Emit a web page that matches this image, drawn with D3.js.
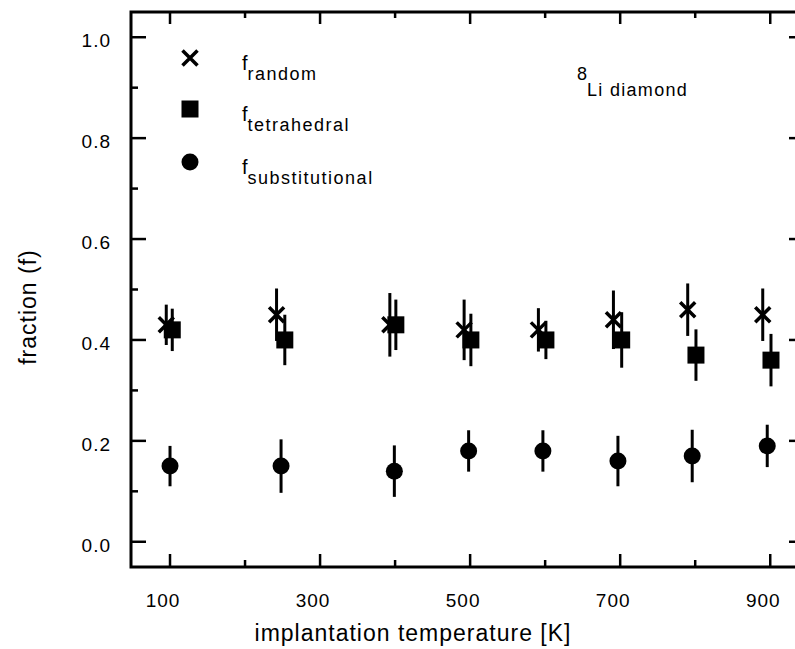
<!DOCTYPE html>
<html>
<head>
<meta charset="utf-8">
<script src="https://cdn.jsdelivr.net/npm/d3@7"></script>
<style>
  body { margin: 0; background: #fff; }
  svg { display: block; font-family: "Liberation Sans", Arial, sans-serif; }
  .tick-label { font-size: 19px; letter-spacing: 1px; }
  .axis-title { font-size: 23px; letter-spacing: 1px; }
  .legend { font-size: 20px; }
</style>
</head>
<body>
<svg></svg>
<script>
// Temperatures [K] as plotted (each series is shifted a bit so the bars don't overlap)
var tempRandom = [95, 242, 393, 492, 591, 691, 790, 890];
var tempTetra  = [103, 253, 401, 501, 601, 702, 801, 901];
var tempSubst  = [100, 248, 399, 498, 597, 697, 796, 896];

// fractions and their error bars
var fRandom    = [0.43, 0.45, 0.43, 0.42, 0.42, 0.44, 0.46, 0.45];
var errRandom  = [0.040, 0.052, 0.063, 0.060, 0.043, 0.058, 0.052, 0.052];
var fTetra     = [0.42, 0.40, 0.43, 0.40, 0.40, 0.40, 0.37, 0.36];
var errTetra   = [0.042, 0.050, 0.050, 0.052, 0.038, 0.055, 0.051, 0.052];
var fSubst     = [0.15, 0.15, 0.14, 0.18, 0.18, 0.16, 0.17, 0.19];
var errSubst   = [0.040, 0.053, 0.051, 0.041, 0.041, 0.050, 0.052, 0.042];

var xTicks = [100, 300, 500, 700, 900];
var xMinor = [200, 400, 600, 800];
var yTicks = [0.0, 0.2, 0.4, 0.6, 0.8, 1.0];
var yMinor = [0.1, 0.3, 0.5, 0.7, 0.9];

var width = 795,
    height = 649;

var x = d3.scaleLinear()
    .domain([48, 937])
    .range([131, 798]);

var y = d3.scaleLinear()
    .domain([-0.05, 1.05])
    .range([567, 12]);

var svg = d3.select("svg")
    .attr("width", width)
    .attr("height", height);

// frame
var x0 = x.range()[0], x1 = x.range()[1],
    y0 = y.range()[1], y1 = y.range()[0];

svg.append("rect")
    .attr("x", x0).attr("y", y0)
    .attr("width", x1 - x0).attr("height", y1 - y0)
    .attr("fill", "none")
    .attr("stroke", "#000")
    .attr("stroke-width", 3);

var ticks = svg.append("g").attr("stroke", "#000").attr("stroke-width", 2.5);

// bottom + top ticks (inward)
xTicks.forEach(function(t) {
  ticks.append("line").attr("x1", x(t)).attr("x2", x(t)).attr("y1", y1).attr("y2", y1 - 13);
  ticks.append("line").attr("x1", x(t)).attr("x2", x(t)).attr("y1", y0).attr("y2", y0 + 12);
});
xMinor.forEach(function(t) {
  ticks.append("line").attr("x1", x(t)).attr("x2", x(t)).attr("y1", y1).attr("y2", y1 - 7);
  ticks.append("line").attr("x1", x(t)).attr("x2", x(t)).attr("y1", y0).attr("y2", y0 + 6);
});

// left + right ticks
yTicks.forEach(function(v) {
  ticks.append("line").attr("x1", x0).attr("x2", x0 + 15).attr("y1", y(v)).attr("y2", y(v));
  ticks.append("line").attr("x1", x1).attr("x2", x1 - 9).attr("y1", y(v)).attr("y2", y(v));
});
yMinor.forEach(function(v) {
  ticks.append("line").attr("x1", x0).attr("x2", x0 + 7).attr("y1", y(v)).attr("y2", y(v));
});

// tick labels
svg.selectAll(".xlab")
    .data(xTicks)
  .enter().append("text")
    .attr("class", "tick-label")
    .attr("x", function(d) { return x(d) - 7; })
    .attr("y", 607)
    .attr("text-anchor", "middle")
    .text(function(d) { return d; });

svg.selectAll(".ylab")
    .data(yTicks)
  .enter().append("text")
    .attr("class", "tick-label")
    .attr("x", 111)
    .attr("y", function(d) { return y(d) + 10; })
    .attr("text-anchor", "end")
    .text(function(d) { return d.toFixed(1); });

// axis titles
svg.append("text")
    .attr("class", "axis-title")
    .attr("x", 413)
    .attr("y", 641)
    .attr("text-anchor", "middle")
    .text("implantation temperature [K]");

svg.append("text")
    .attr("class", "axis-title")
    .attr("transform", "translate(36,307) rotate(-90)")
    .attr("text-anchor", "middle")
    .text("fraction (f)");

// data
function series(temps, vals, errs) {
  return temps.map(function(t, i) { return {t: t, v: vals[i], e: errs[i]}; });
}

var random = series(tempRandom, fRandom, errRandom),
    tetra  = series(tempTetra, fTetra, errTetra),
    subst  = series(tempSubst, fSubst, errSubst);

var g = svg.append("g");

function errorBars(data) {
  g.selectAll(null)
      .data(data)
    .enter().append("line")
      .attr("x1", function(d) { return x(d.t); })
      .attr("x2", function(d) { return x(d.t); })
      .attr("y1", function(d) { return y(d.v - d.e); })
      .attr("y2", function(d) { return y(d.v + d.e); })
      .attr("stroke", "#000")
      .attr("stroke-width", 3);
}

var cross = "M-7.5,-7.5L7.5,7.5M-7.5,7.5L7.5,-7.5";

errorBars(random);
g.selectAll(null)
    .data(random)
  .enter().append("path")
    .attr("transform", function(d) { return "translate(" + x(d.t) + "," + y(d.v) + ")"; })
    .attr("d", cross)
    .attr("stroke", "#000")
    .attr("stroke-width", 3.5)
    .attr("fill", "none");

errorBars(tetra);
g.selectAll(null)
    .data(tetra)
  .enter().append("rect")
    .attr("x", function(d) { return x(d.t) - 8.5; })
    .attr("y", function(d) { return y(d.v) - 8.5; })
    .attr("width", 17)
    .attr("height", 17)
    .attr("fill", "#000");

errorBars(subst);
g.selectAll(null)
    .data(subst)
  .enter().append("circle")
    .attr("cx", function(d) { return x(d.t); })
    .attr("cy", function(d) { return y(d.v); })
    .attr("r", 8.5)
    .attr("fill", "#000");

// legend
var leg = svg.append("g");
leg.append("path").attr("transform", "translate(190,58)").attr("d", cross)
    .attr("stroke", "#000").attr("stroke-width", 3.5).attr("fill", "none");
leg.append("rect").attr("x", 181.5).attr("y", 100.5).attr("width", 17).attr("height", 17).attr("fill", "#000");
leg.append("circle").attr("cx", 190).attr("cy", 162).attr("r", 8.5).attr("fill", "#000");

var legendNames = ["random", "tetrahedral", "substitutional"];
var legendY = [70, 121, 174];

legendNames.forEach(function(name, i) {
  var t = leg.append("text").attr("class", "legend").attr("x", 242).attr("y", legendY[i]);
  t.append("tspan").text("f");
  t.append("tspan")
      .attr("dy", 10)
      .attr("font-size", 18)
      .attr("letter-spacing", 1.5)
      .text(name);
});

// sample label
var lab = svg.append("text").attr("x", 577).attr("y", 80).attr("class", "legend");
lab.append("tspan").attr("font-size", 18).text("8");
lab.append("tspan")
    .attr("dy", 16)
    .attr("font-size", 18)
    .attr("letter-spacing", 1.3)
    .text("Li diamond");
</script>
</body>
</html>
